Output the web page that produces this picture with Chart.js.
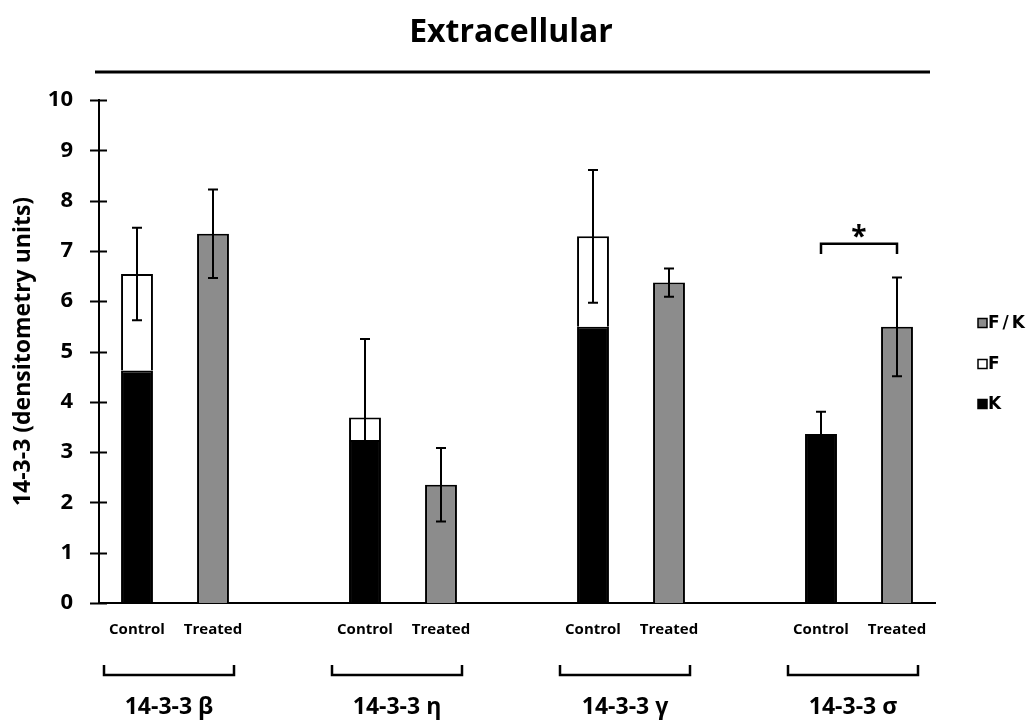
<!DOCTYPE html>
<html>
<head>
<meta charset="utf-8">
<title>Extracellular</title>
<script src="https://cdn.jsdelivr.net/npm/chart.js@4.4.1/dist/chart.umd.min.js"></script>
<style>
  body { margin: 0; background: #fff; }
  #wrap { width: 1034px; height: 722px; position: relative; }
</style>
</head>
<body>
<div id="wrap"><canvas id="canvas"></canvas></div>
<script>
// isoforms along the x axis, one Control/Treated pair each:
let groups = ['14-3-3 β', '14-3-3 η', '14-3-3 γ', '14-3-3 σ'];
let conditions = ['Control', 'Treated'];

// control bars are stacked: K at the bottom, F on top
let kControl = [4.62, 3.24, 5.49, 3.36];
let fControl = [1.92, 0.45, 1.80, null];
// treated bars are F/K:
let fkTreated = [7.34, 2.35, 6.37, 5.49];

// error bars (+/- around the top of each bar):
let errControl = [0.92, 1.56, 1.32, 0.44];
let errTreated = [0.88, 0.73, 0.28, 0.98];

// y axis:
let yMin = 0;
let yMax = 10;
let yStep = 1;

// significance bracket over one group:
let sigGroup = 3;
let sigLevel = 7.14;
let sigDrop = 0.2;
let sigLabel = '*';

let chartTitle = 'Extracellular';
let yTitle = '14-3-3 (densitometry units)';

let fontFamily = '"Open Sans", "DejaVu Sans", sans-serif';
let grey = '#8c8c8c';

// build the category slots: Control, Treated, gap, Control, Treated, gap...
let labels = [];
let kData = [], fData = [], fkData = [];
groups.forEach((g, i) => {
  labels.push(conditions[0], conditions[1]);
  kData.push(kControl[i], null);
  fData.push(fControl[i], null);
  fkData.push(null, fkTreated[i]);
  if (i < groups.length - 1) {
    labels.push('');
    kData.push(null);
    fData.push(null);
    fkData.push(null);
  }
});
let controlIndex = (i) => i * 3;
let treatedIndex = (i) => i * 3 + 1;

// draws everything the library does not: title, ticks, error bars, brackets, legend
const extras = {
  id: 'extras',
  afterDraw(chart) {
    const ctx = chart.ctx;
    const x = chart.scales.x;
    const y = chart.scales.y;
    const area = chart.chartArea;
    ctx.save();
    ctx.strokeStyle = '#000';
    ctx.fillStyle = '#000';

    // title and the rule under it:
    ctx.font = 'bold 32px ' + fontFamily;
    ctx.textAlign = 'center';
    ctx.textBaseline = 'alphabetic';
    ctx.fillText(chartTitle, 511, 42);
    ctx.lineWidth = 3;
    ctx.beginPath();
    ctx.moveTo(95, 72);
    ctx.lineTo(930, 72);
    ctx.stroke();

    // y tick marks crossing the axis:
    ctx.lineWidth = 2;
    for (let v = yMin; v <= yMax; v += yStep) {
      const py = Math.round(y.getPixelForValue(v)) + 0.5;
      ctx.beginPath();
      ctx.moveTo(area.left - 9, py);
      ctx.lineTo(area.left + 8, py);
      ctx.stroke();
    }

    // error bars:
    const drawErr = (idx, top, err) => {
      const px = x.getPixelForValue(idx);
      const hi = y.getPixelForValue(top + err);
      const lo = y.getPixelForValue(top - err);
      ctx.lineWidth = 2;
      ctx.beginPath();
      ctx.moveTo(px, hi);
      ctx.lineTo(px, lo);
      ctx.moveTo(px - 5, hi);
      ctx.lineTo(px + 5, hi);
      ctx.moveTo(px - 5, lo);
      ctx.lineTo(px + 5, lo);
      ctx.stroke();
    };
    groups.forEach((g, i) => {
      drawErr(controlIndex(i), kControl[i] + (fControl[i] || 0), errControl[i]);
      drawErr(treatedIndex(i), fkTreated[i], errTreated[i]);
    });

    // significance bracket:
    const x1 = x.getPixelForValue(controlIndex(sigGroup));
    const x2 = x.getPixelForValue(treatedIndex(sigGroup));
    const sy = y.getPixelForValue(sigLevel);
    const sd = y.getPixelForValue(sigLevel - sigDrop);
    ctx.lineWidth = 2.5;
    ctx.beginPath();
    ctx.moveTo(x1, sd);
    ctx.lineTo(x1, sy);
    ctx.lineTo(x2, sy);
    ctx.lineTo(x2, sd);
    ctx.stroke();
    ctx.font = 'bold 28px ' + fontFamily;
    ctx.textAlign = 'center';
    ctx.fillText(sigLabel, (x1 + x2) / 2, sy + 2);

    // group brackets and names under the axis:
    ctx.font = 'bold 23px ' + fontFamily;
    ctx.textBaseline = 'middle';
    groups.forEach((g, i) => {
      const c = (x.getPixelForValue(controlIndex(i)) + x.getPixelForValue(treatedIndex(i))) / 2 - 6;
      ctx.lineWidth = 2.5;
      ctx.beginPath();
      ctx.moveTo(c - 65, 665);
      ctx.lineTo(c - 65, 675);
      ctx.lineTo(c + 65, 675);
      ctx.lineTo(c + 65, 665);
      ctx.stroke();
      ctx.fillText(g, c, 707);
    });

    // legend, listed top layer first:
    const rows = [323, 364, 404];
    const ds = chart.data.datasets.slice().reverse();
    ctx.font = 'bold 17px "DejaVu Sans", sans-serif';
    ctx.textAlign = 'left';
    ctx.letterSpacing = '3px';
    ds.forEach((d, i) => {
      ctx.fillStyle = d.backgroundColor;
      ctx.fillRect(978, rows[i] - 4.5, 9, 9);
      ctx.lineWidth = 1.5;
      ctx.strokeRect(978, rows[i] - 4.5, 9, 9);
      ctx.fillStyle = '#000';
      ctx.fillText(d.label, 988, rows[i] + 1);
    });
    ctx.restore();
  }
};

const data = {
  labels: labels,
  datasets: [
    { label: 'K', data: kData, backgroundColor: '#000000', borderColor: '#000', borderWidth: 2 },
    { label: 'F', data: fData, backgroundColor: '#ffffff', borderColor: '#000', borderWidth: 2 },
    { label: 'F/K', data: fkData, backgroundColor: grey, borderColor: '#000', borderWidth: 2 }
  ]
};

const config = {
  type: 'bar',
  data: data,
  options: {
    responsive: true,
    maintainAspectRatio: false,
    animation: false,
    layout: { padding: { left: 0, right: 99, top: 100, bottom: 0 } },
    datasets: {
      bar: { barPercentage: 0.42, categoryPercentage: 1 }
    },
    plugins: {
      legend: { display: false },
      tooltip: { enabled: false }
    },
    scales: {
      x: {
        stacked: true,
        grid: { display: false, drawTicks: false },
        border: { display: true, color: '#000', width: 2 },
        ticks: {
          color: '#000',
          padding: 18,
          maxRotation: 0,
          autoSkip: false,
          font: { family: fontFamily, size: 15, weight: 'bold' }
        },
        afterFit: (scale) => { scale.height = 119; }
      },
      y: {
        stacked: true,
        min: yMin,
        max: yMax,
        grid: { display: false, drawTicks: false },
        border: { display: true, color: '#000', width: 2 },
        ticks: {
          stepSize: yStep,
          color: '#000',
          padding: 26,
          font: { family: fontFamily, size: 22, weight: 'bold' }
        },
        title: {
          display: true,
          text: yTitle,
          color: '#000',
          padding: { top: 10, bottom: 0 },
          font: { family: fontFamily, size: 23, weight: 'bold' }
        },
        afterFit: (scale) => { scale.width = 99; }
      }
    }
  },
  plugins: [extras]
};

let chart = new Chart(document.getElementById('canvas'), config);
</script>
</body>
</html>
